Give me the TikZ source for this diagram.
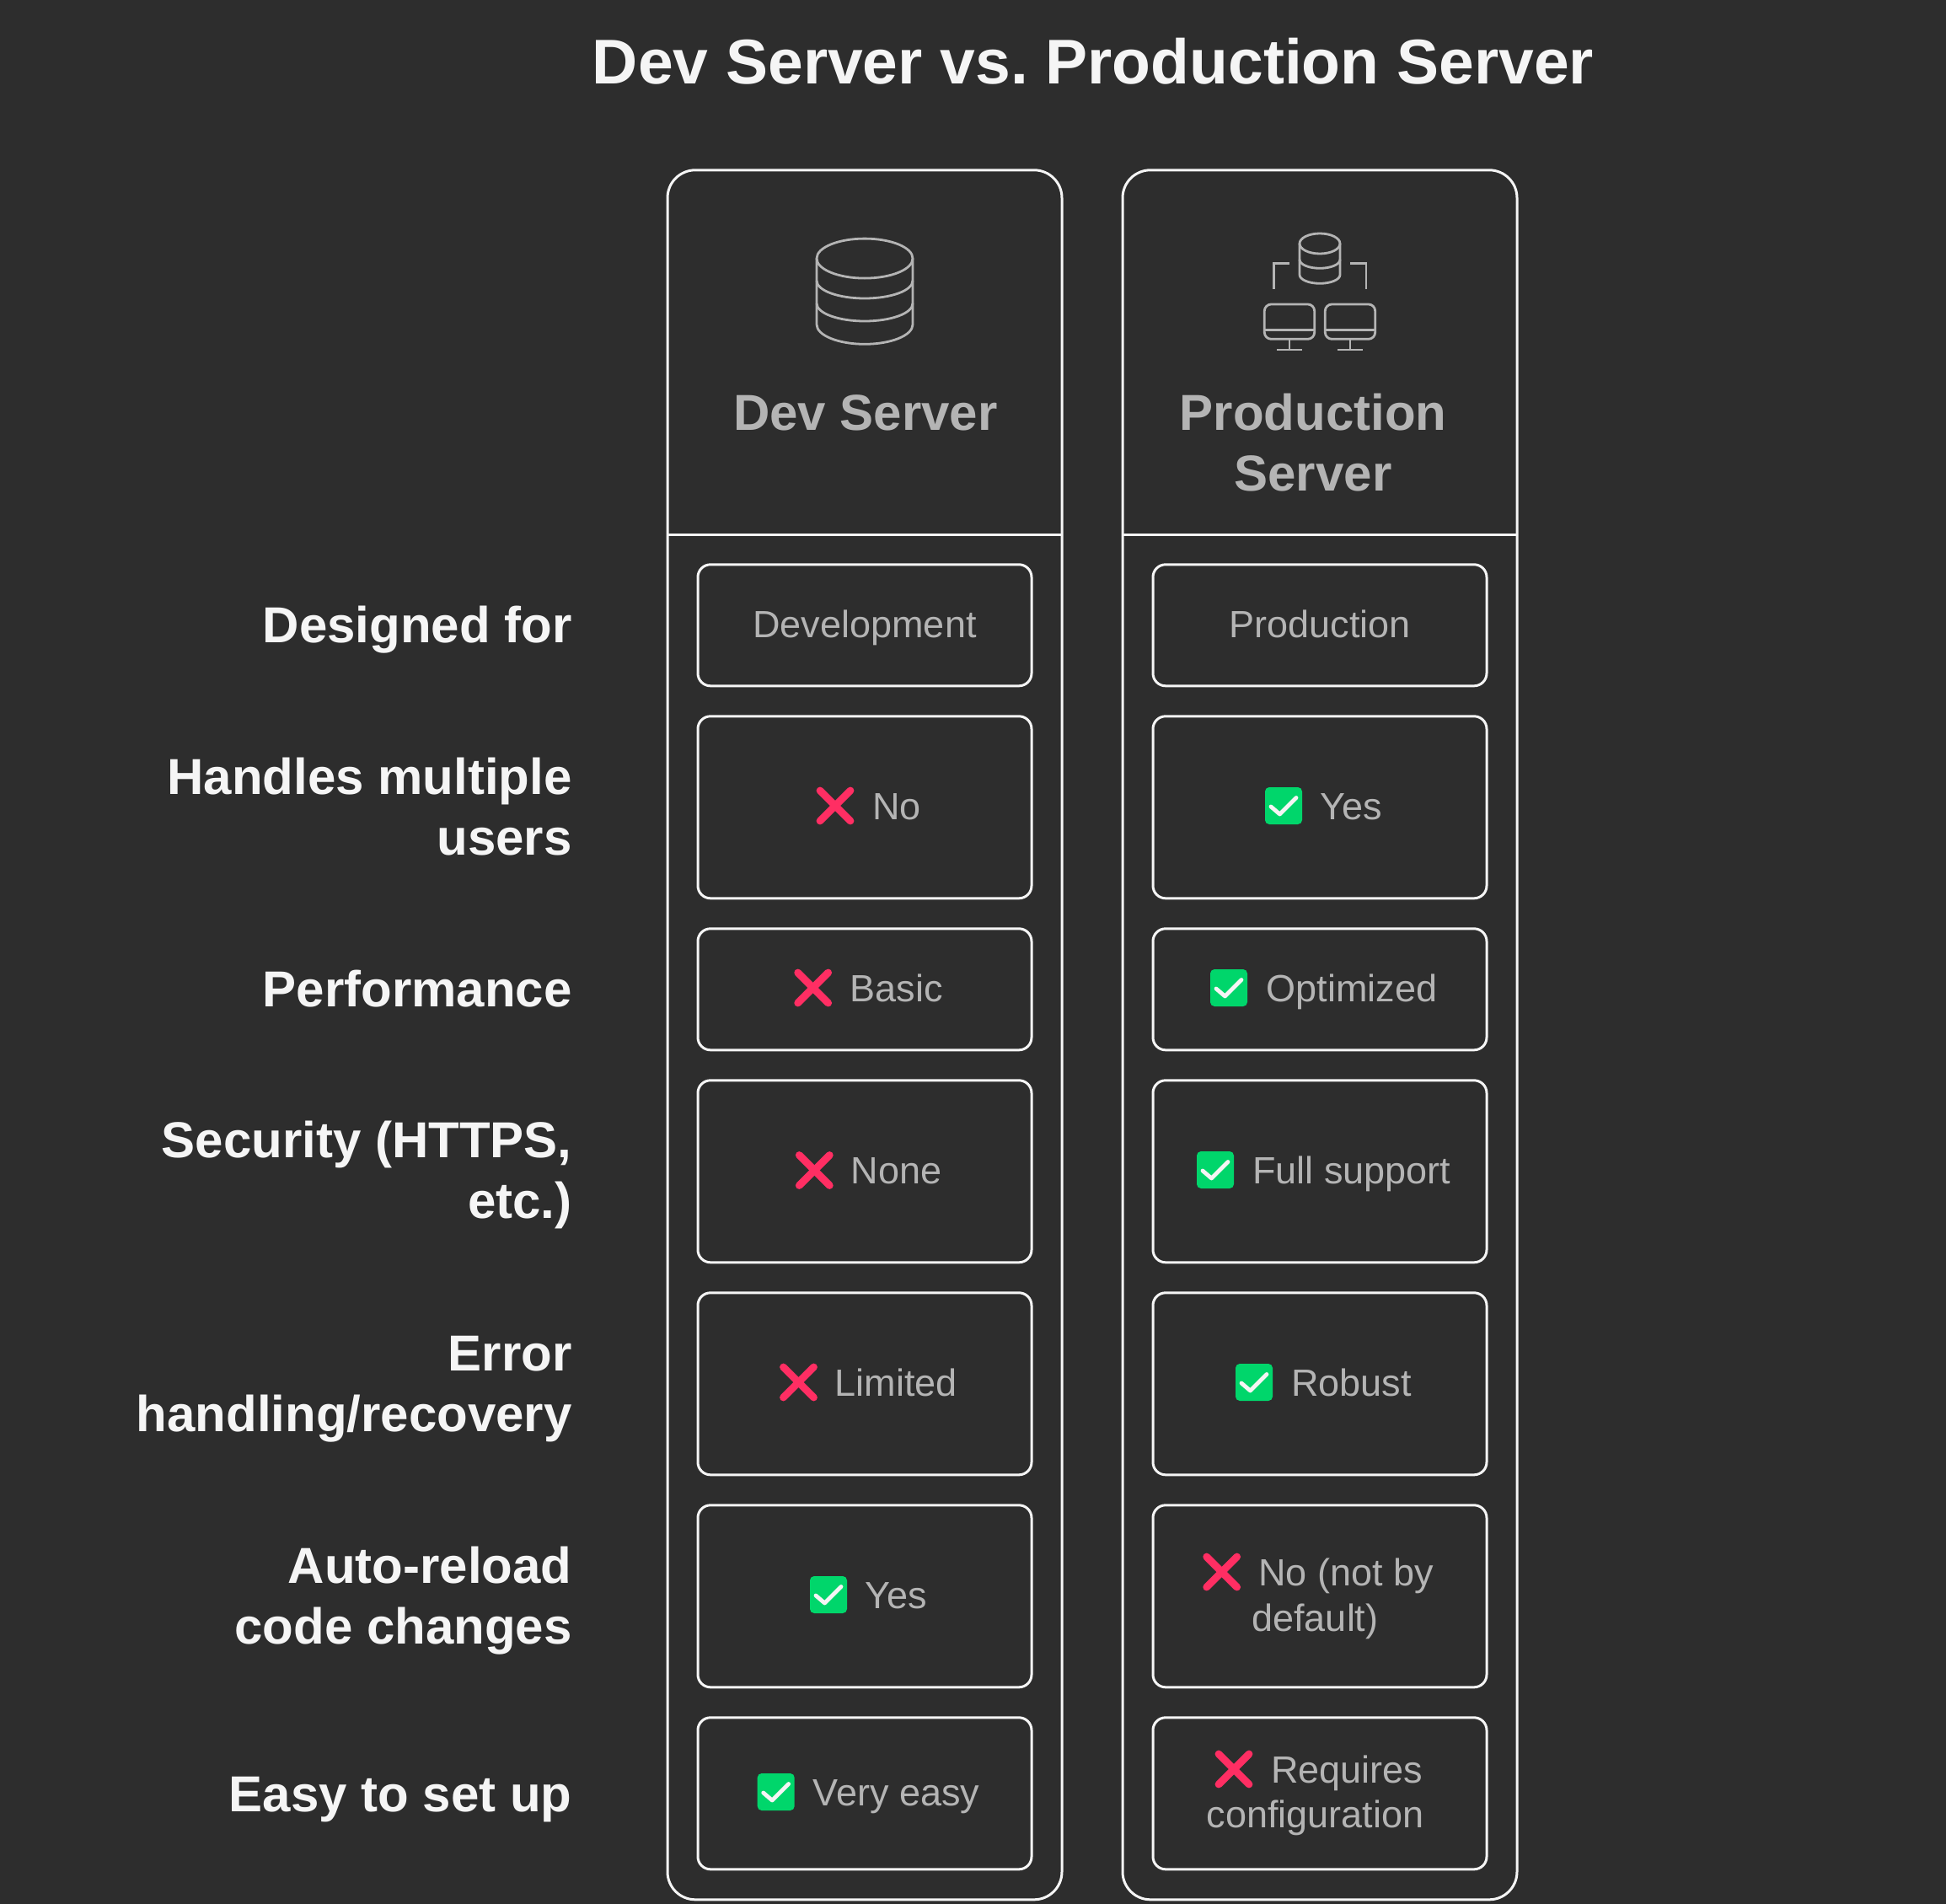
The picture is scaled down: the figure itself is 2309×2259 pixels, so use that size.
\documentclass[tikz,border=0pt]{standalone}
\usepackage{fontspec}
\setmainfont{Liberation Sans}
\usepackage{xcolor}
\usetikzlibrary{positioning}
\definecolor{bgdark}{HTML}{2D2D2D}
\definecolor{linelight}{HTML}{F5F5F5}
\definecolor{textgray}{HTML}{B4B4B4}
\definecolor{crossred}{HTML}{FF2E63}
\definecolor{checkgreen}{HTML}{00D66B}
\frenchspacing
\tikzset{
    panelbox/.style={draw=linelight, line width=1.5pt, rounded corners=16.5pt, minimum width=234pt, minimum height=1026pt, inner sep=0pt, outer sep=0pt},
    cellbox/.style={draw=linelight, line width=1.5pt, rounded corners=7.5pt, minimum width=198pt, inner sep=0pt, outer sep=0pt},
    titletext/.style={font=\fontsize{37.5}{45}\selectfont\bfseries, text=linelight, inner sep=0pt},
    rowlabel/.style={font=\fontsize{30}{36}\selectfont\bfseries, text=linelight, inner sep=0pt, anchor=base east},
    headtext/.style={font=\fontsize{30}{36}\selectfont\bfseries, text=textgray, inner sep=0pt, anchor=base},
    celltext/.style={font=\fontsize{22.5}{27}\selectfont, text=textgray, inner sep=0pt, anchor=base west},
    iconline/.style={draw=textgray, line width=1.4pt},
    crossmark/.pic={
        \draw[crossred, line width=4.4pt, line cap=round] (-18,-18) -- (18,18);
        \draw[crossred, line width=4.4pt, line cap=round] (-18,18) -- (18,-18);
    },
    checkmark/.pic={
        \fill[checkgreen, rounded corners=2.5pt] (-22,-22) rectangle (22,22);
        \draw[linelight, line width=2.4pt, line cap=round, line join=round] (-15,1) -- (-4.5,10) -- (15,-9.5);
    },
}
\begin{document}
\begin{tikzpicture}[x=0.5pt, y=-0.5pt]
    \useasboundingbox (0,0) rectangle (2309,2259);
    \fill[bgdark] (0,0) rectangle (2309,2259);

    % Title
    \node[titletext, anchor=base] (title) at (1297,99) {Dev Server vs. Production Server};

    % Panels
    \node[panelbox] (devpanel) at (1026,1227.8) {};
    \node[panelbox] (prodpanel) at (1566,1227.8) {};
    \draw[draw=linelight, line width=1.5pt] (792,634.3) -- (1260,634.3);
    \draw[draw=linelight, line width=1.5pt] (1332,634.3) -- (1800,634.3);

    % Dev icon
    \draw[iconline] (1026,306.6) ellipse [x radius=57, y radius=23.5];
    \draw[iconline] (969,306.6) -- (969,385) arc [start angle=180, end angle=0, x radius=57, y radius=23.3] -- (1083,306.6);
    \draw[iconline] (969,333) arc [start angle=180, end angle=0, x radius=57, y radius=21];
    \draw[iconline] (969,360) arc [start angle=180, end angle=0, x radius=57, y radius=21];

    % Production icon
    \draw[iconline] (1566,289) ellipse [x radius=24, y radius=12];
    \draw[iconline] (1542,289) -- (1542,326) arc [start angle=180, end angle=0, x radius=24, y radius=10.3] -- (1590,289);
    \draw[iconline] (1542,308) arc [start angle=180, end angle=0, x radius=24, y radius=10.3];
    \draw[iconline] (1511.7,342.7) -- (1511.7,312.7) -- (1530,312.7);
    \draw[iconline] (1621,342.7) -- (1621,312.7) -- (1602.3,312.7);
    \draw[iconline, rounded corners=4pt] (1500.3,361) rectangle (1559.7,402.3);
    \draw[iconline] (1500.3,391.3) -- (1559.7,391.3);
    \draw[iconline] (1530,402.3) -- (1530,415);
    \draw[iconline] (1515,415) -- (1545,415);
    \draw[iconline, rounded corners=4pt] (1572.3,361) rectangle (1631.7,402.3);
    \draw[iconline] (1572.3,391.3) -- (1631.7,391.3);
    \draw[iconline] (1602,402.3) -- (1602,415);
    \draw[iconline] (1587,415) -- (1617,415);

    % Headers
    \node[headtext] (devhead) at (1027,510) {Dev Server};
    \node[headtext] (prodheadA) at (1558,510) {Production};
    \node[headtext] (prodheadB) at (1558,582) {Server};

    % Row labels
    \node[rowlabel] (labelA) at (679,762) {Designed for};
    \node[rowlabel] (labelBa) at (679,942) {Handles multiple};
    \node[rowlabel] (labelBb) at (679,1014.5) {users};
    \node[rowlabel] (labelC) at (679,1194) {Performance};
    \node[rowlabel] (labelDa) at (679,1373.7) {Security (HTTPS,};
    \node[rowlabel] (labelDb) at (679,1445.5) {etc.)};
    \node[rowlabel] (labelEa) at (679,1626) {Error};
    \node[rowlabel] (labelEb) at (679,1698.5) {handling/recovery};
    \node[rowlabel] (labelFa) at (679,1878) {Auto-reload};
    \node[rowlabel] (labelFb) at (679,1950.5) {code changes};
    \node[rowlabel] (labelG) at (679,2149) {Easy to set up};

    % Dev cells
    \node[cellbox, minimum height=72pt] (devA) at (1026,741.8) {};
    \node[cellbox, minimum height=108pt] (devB) at (1026,957.8) {};
    \node[cellbox, minimum height=72pt] (devC) at (1026,1173.8) {};
    \node[cellbox, minimum height=108pt] (devD) at (1026,1389.8) {};
    \node[cellbox, minimum height=108pt] (devE) at (1026,1641.8) {};
    \node[cellbox, minimum height=108pt] (devF) at (1026,1893.8) {};
    \node[cellbox, minimum height=90pt] (devG) at (1026,2127.8) {};

    % Production cells
    \node[cellbox, minimum height=72pt] (prodA) at (1566,741.8) {};
    \node[cellbox, minimum height=108pt] (prodB) at (1566,957.8) {};
    \node[cellbox, minimum height=72pt] (prodC) at (1566,1173.8) {};
    \node[cellbox, minimum height=108pt] (prodD) at (1566,1389.8) {};
    \node[cellbox, minimum height=108pt] (prodE) at (1566,1641.8) {};
    \node[cellbox, minimum height=108pt] (prodF) at (1566,1893.8) {};
    \node[cellbox, minimum height=90pt] (prodG) at (1566,2127.8) {};

    % Dev cell contents
    \node[celltext, anchor=base] (devAtext) at (1026,756.5) {Development};
    \pic at (991,956) {crossmark};
    \node[celltext] (devBtext) at (1035,972.5) {No};
    \pic at (964.7,1172) {crossmark};
    \node[celltext] (devCtext) at (1008.5,1188.5) {Basic};
    \pic at (966.3,1388.5) {crossmark};
    \node[celltext] (devDtext) at (1009.5,1404.5) {None};
    \pic at (947.5,1640) {crossmark};
    \node[celltext] (devEtext) at (990.5,1656.5) {Limited};
    \pic at (983,1892) {checkmark};
    \node[celltext] (devFtext) at (1026.5,1908.5) {Yes};
    \pic at (920.7,2126) {checkmark};
    \node[celltext] (devGtext) at (964.5,2142.5) {Very easy};

    % Production cell contents
    \node[celltext, anchor=base] (prodAtext) at (1566,756.5) {Production};
    \pic at (1523,956) {checkmark};
    \node[celltext] (prodBtext) at (1566.5,972.5) {Yes};
    \pic at (1458,1172) {checkmark};
    \node[celltext] (prodCtext) at (1502.5,1188.5) {Optimized};
    \pic at (1442,1388) {checkmark};
    \node[celltext] (prodDtext) at (1486,1404.5) {Full support};
    \pic at (1488,1640) {checkmark};
    \node[celltext] (prodEtext) at (1532,1656.5) {Robust};
    \pic at (1449.7,1865) {crossmark};
    \node[celltext] (prodFa) at (1493,1881.5) {No (not by};
    \node[celltext] (prodFb) at (1485,1935) {default)};
    \pic at (1464,2099) {crossmark};
    \node[celltext] (prodGa) at (1508,2115) {Requires};
    \node[celltext] (prodGb) at (1431.5,2168.5) {configuration};
\end{tikzpicture}
\end{document}
